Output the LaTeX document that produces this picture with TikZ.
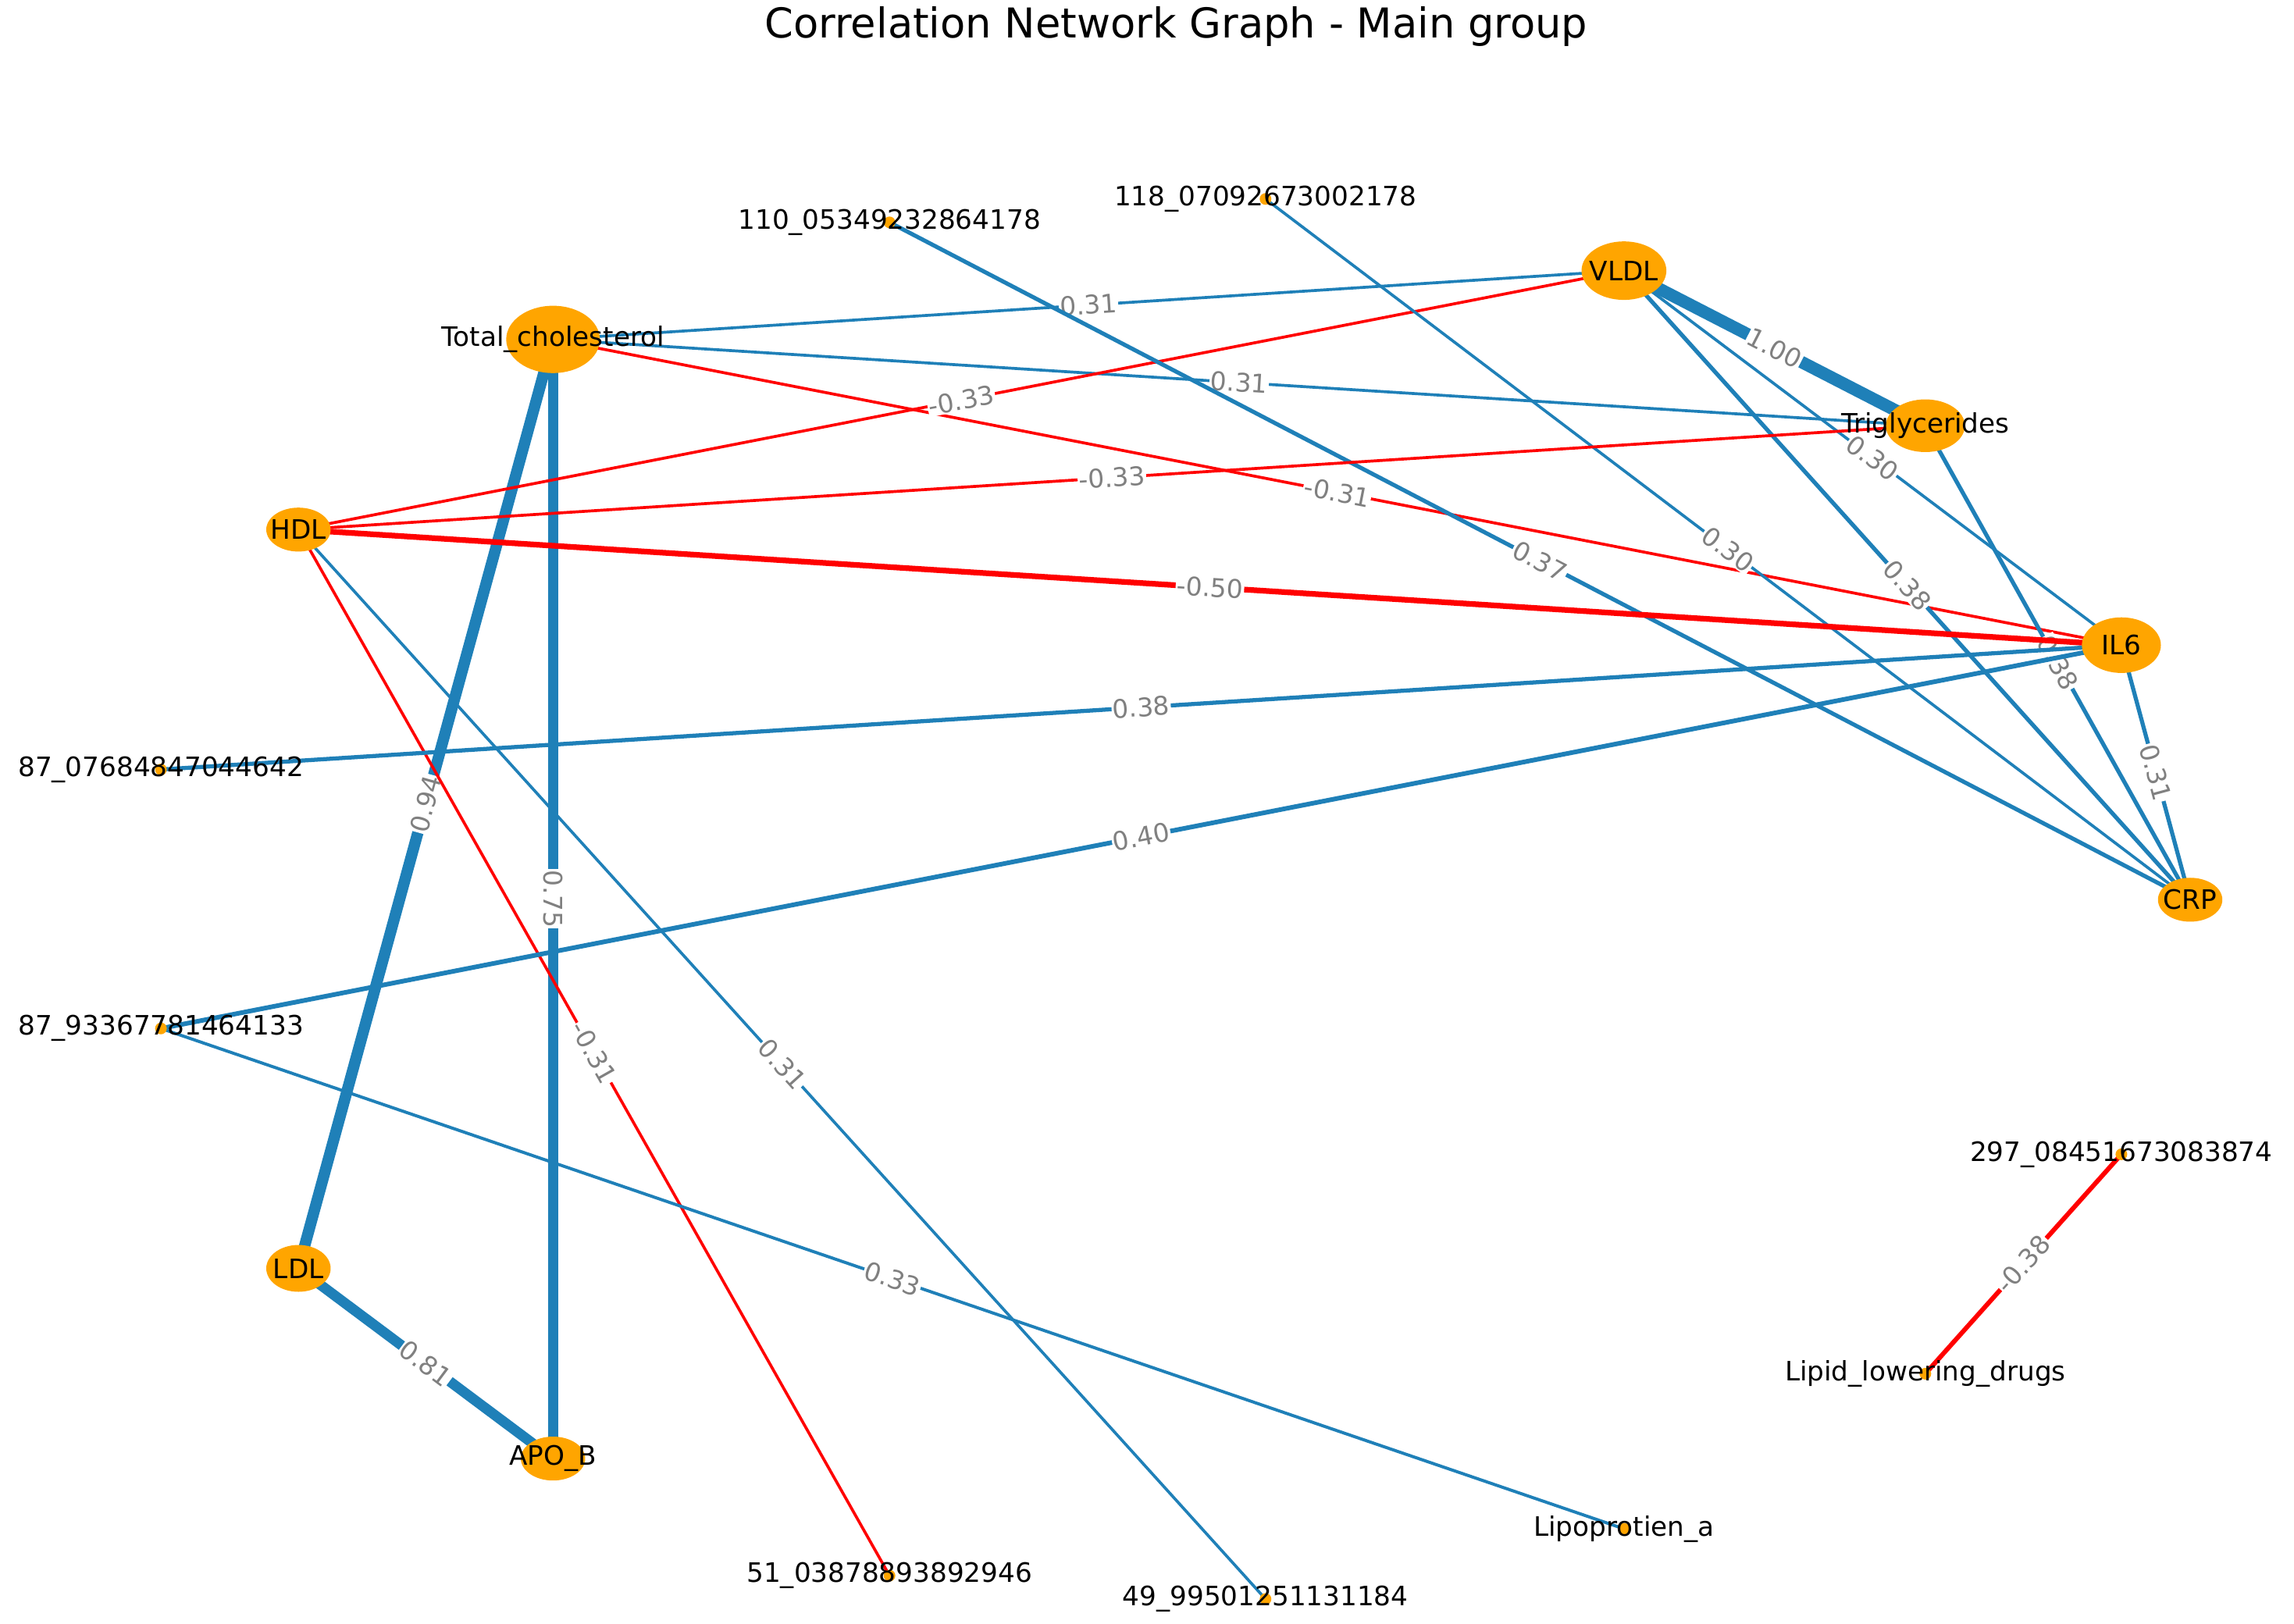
\documentclass[tikz,border=0pt]{standalone}
\usepackage{fontspec}
\setmainfont{DejaVu Sans}
\usetikzlibrary{backgrounds,shapes.geometric}
\definecolor{eblue}{RGB}{31,128,184}
\definecolor{nor}{RGB}{255,165,0}
\tikzset{
 nd/.style={ellipse,fill=nor,inner sep=0pt},
 dot/.style={circle,fill=nor,inner sep=0pt,minimum size=0.4cm},
 lab/.style={font=\fontsize{26}{26}\selectfont},
 be/.style={draw=eblue,line width=#1},
 re/.style={draw=red,line width=#1},
 elab/.style={midway,sloped,fill=white,inner sep=1pt,text=gray,font=\fontsize{25}{25}\selectfont}
}
\begin{document}
\begin{tikzpicture}[x=0.05cm,y=-0.05cm]
\useasboundingbox (0,0) rectangle (1568,1110);
\node[font=\fontsize{40}{40}\selectfont] (title) at (804,18) {Correlation Network Graph - Main group};
\node[nd,minimum width=3.2cm,minimum height=2.3cm,label={[lab]center:Total\_cholesterol}] (TC) at (378,232) {};
\node[nd,minimum width=2.9cm,minimum height=2.0cm,label={[lab]center:VLDL}] (VL) at (1110,185) {};
\node[nd,minimum width=2.7cm,minimum height=1.8cm,label={[lab]center:Triglycerides}] (TG) at (1316,291) {};
\node[nd,minimum width=2.2cm,minimum height=1.5cm,label={[lab]center:HDL}] (HDL) at (204,362) {};
\node[nd,minimum width=2.7cm,minimum height=1.9cm,label={[lab]center:IL6}] (IL) at (1450,441) {};
\node[nd,minimum width=2.2cm,minimum height=1.5cm,label={[lab]center:CRP}] (CRP) at (1497,615) {};
\node[nd,minimum width=2.2cm,minimum height=1.6cm,label={[lab]center:LDL}] (LDL) at (204,867) {};
\node[nd,minimum width=2.2cm,minimum height=1.5cm,label={[lab]center:APO\_B}] (APO) at (378,997) {};
\node[dot,label={[lab]center:110\_05349232864178}] (a110) at (608,152) {};
\node[dot,label={[lab]center:118\_07092673002178}] (a118) at (865,136) {};
\node[dot,label={[lab]center:87\_07684847044642}] (a87a) at (110,526) {};
\node[dot,label={[lab]center:87\_93367781464133}] (a87b) at (110,703) {};
\node[dot,label={[lab]center:297\_08451673083874}] (a297) at (1450,789) {};
\node[dot,label={[lab]center:Lipid\_lowering\_drugs}] (LLD) at (1316,939) {};
\node[dot,label={[lab]center:51\_03878893892946}] (a51) at (608,1077) {};
\node[dot,label={[lab]center:49\_99501251131184}] (a49) at (865,1093) {};
\node[dot,label={[lab]center:Lipoprotien\_a}] (LPA) at (1110,1045) {};
\begin{scope}[on background layer]
\draw[be=2.8pt] (TC.center)--(VL.center) node[elab]{0.31};
\draw[be=2.8pt] (TC.center)--(TG.center) node[elab]{0.31};
\draw[re=2.8pt] (TC.center)--(IL.center) node[elab]{-0.31};
\draw[be=11pt] (TC.center)--(LDL.center) node[elab]{0.94};
\draw[be=10pt] (TC.center)--(APO.center) node[elab]{0.75};
\draw[re=2.8pt] (VL.center)--(HDL.center) node[elab]{-0.33};
\draw[be=12pt] (VL.center)--(TG.center) node[elab]{1.00};
\draw[be=2.8pt] (VL.center)--(IL.center) node[elab]{0.30};
\draw[be=4pt] (VL.center)--(CRP.center) node[elab]{0.38};
\draw[be=4pt] (a110.center)--(CRP.center) node[elab]{0.37};
\draw[be=2.8pt] (a118.center)--(CRP.center) node[elab]{0.30};
\draw[re=2.8pt] (TG.center)--(HDL.center) node[elab]{-0.33};
\draw[be=4pt] (TG.center)--(CRP.center) node[elab]{0.38};
\draw[re=5.5pt] (HDL.center)--(IL.center) node[elab]{-0.50};
\draw[re=2.8pt] (HDL.center)--(a51.center) node[elab]{-0.31};
\draw[be=2.8pt] (HDL.center)--(a49.center) node[elab]{0.31};
\draw[be=4pt] (IL.center)--(a87a.center) node[elab]{0.38};
\draw[be=4.5pt] (IL.center)--(a87b.center) node[elab]{0.40};
\draw[be=4pt] (IL.center)--(CRP.center) node[elab]{0.31};
\draw[be=10pt] (LDL.center)--(APO.center) node[elab]{0.81};
\draw[be=3pt] (a87b.center)--(LPA.center) node[elab]{0.33};
\draw[re=4.5pt] (a297.center)--(LLD.center) node[elab]{-0.38};
\end{scope}
\end{tikzpicture}
\end{document}
